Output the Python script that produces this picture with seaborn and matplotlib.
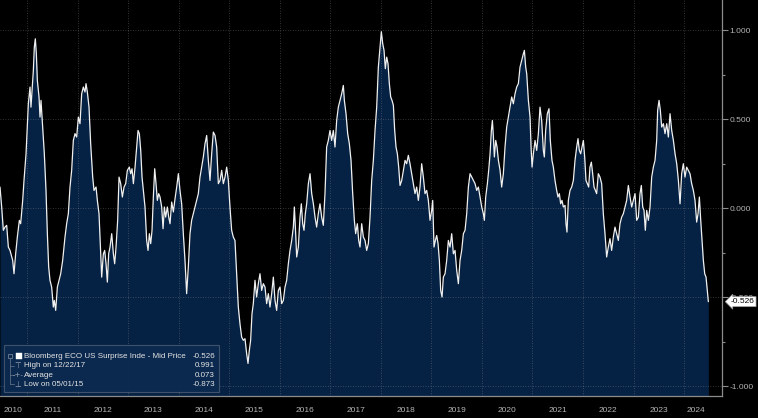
import numpy as np
import pandas as pd
import matplotlib
matplotlib.use("Agg")
import matplotlib.pyplot as plt
import matplotlib.transforms as mtransforms
from matplotlib.patches import Rectangle
import seaborn as sns

# ---------------- data (decimal year, index value) ----------------
t_2010_2013 = [2010.466,2010.499,2010.532,2010.565,2010.598,2010.631,2010.664,2010.717,2010.743,2010.776,2010.809,2010.849,2010.875,2010.915,2010.941,2010.981,2011.027,2011.060,2011.079,2011.106,2011.126,2011.145,2011.165,2011.185,2011.205,2011.238,2011.258,2011.277,2011.310,2011.343,2011.376,2011.403,2011.429,2011.455,2011.488,2011.521,2011.541,2011.568,2011.601,2011.634,2011.667,2011.706,2011.752,2011.785,2011.818,2011.851,2011.884,2011.917,2011.950,2011.983,2012.016,2012.049,2012.082,2012.115,2012.148,2012.168,2012.194,2012.227,2012.260,2012.300,2012.326,2012.366,2012.392,2012.425,2012.458,2012.478,2012.511,2012.537,2012.564,2012.590,2012.616,2012.643,2012.676,2012.709,2012.735,2012.762,2012.794,2012.821,2012.854,2012.887,2012.920,2012.953,2012.986,2013.025,2013.052,2013.078,2013.105,2013.138,2013.170,2013.197,2013.223,2013.250,2013.276,2013.302,2013.335,2013.368,2013.395,2013.421,2013.448,2013.474,2013.500,2013.527,2013.553,2013.579,2013.606,2013.632,2013.665,2013.692,2013.718,2013.744,2013.777,2013.804,2013.830,2013.863,2013.896,2013.929,2013.962,2013.995]
v_2010_2013 = [0.118,0.006,-0.125,-0.107,-0.097,-0.219,-0.238,-0.294,-0.369,-0.257,-0.163,-0.069,-0.088,0.043,0.155,0.305,0.586,0.680,0.567,0.689,0.773,0.904,0.951,0.867,0.717,0.624,0.511,0.605,0.455,0.305,0.099,-0.144,-0.331,-0.406,-0.444,-0.556,-0.519,-0.575,-0.444,-0.406,-0.369,-0.294,-0.163,-0.088,-0.032,0.118,0.212,0.380,0.418,0.399,0.511,0.474,0.642,0.680,0.652,0.699,0.652,0.567,0.361,0.174,0.099,0.118,0.043,-0.032,-0.257,-0.388,-0.257,-0.238,-0.313,-0.416,-0.257,-0.219,-0.144,-0.257,-0.313,-0.219,-0.069,0.174,0.137,0.062,0.118,0.137,0.212,0.230,0.193,0.221,0.137,0.230,0.343,0.436,0.418,0.324,0.174,0.099,0.006,-0.182,-0.238,-0.144,-0.200,-0.125,0.062,0.221,0.137,0.043,0.081,0.062,0.006,-0.116,0.006,-0.051,0.006,-0.051,-0.088,0.034,-0.022,0.052,0.118,0.193]

t_2014_2017 = [2014.027,2014.060,2014.093,2014.126,2014.159,2014.192,2014.225,2014.258,2014.291,2014.324,2014.357,2014.390,2014.423,2014.456,2014.489,2014.522,2014.555,2014.588,2014.621,2014.654,2014.687,2014.720,2014.753,2014.786,2014.819,2014.852,2014.885,2014.918,2014.951,2014.984,2015.016,2015.049,2015.082,2015.115,2015.148,2015.181,2015.214,2015.247,2015.280,2015.313,2015.346,2015.373,2015.399,2015.425,2015.452,2015.478,2015.511,2015.544,2015.577,2015.610,2015.643,2015.676,2015.709,2015.742,2015.775,2015.808,2015.841,2015.874,2015.907,2015.940,2015.973,2016.006,2016.039,2016.072,2016.105,2016.138,2016.171,2016.204,2016.237,2016.270,2016.290,2016.316,2016.336,2016.369,2016.402,2016.428,2016.455,2016.481,2016.507,2016.534,2016.567,2016.600,2016.633,2016.666,2016.699,2016.731,2016.764,2016.797,2016.830,2016.863,2016.896,2016.929,2016.962,2016.995,2017.028,2017.061,2017.094,2017.127,2017.160,2017.193,2017.226,2017.259,2017.279,2017.312,2017.345,2017.378,2017.411,2017.444,2017.477,2017.503,2017.536,2017.563]
v_2014_2017 = [0.099,0.024,-0.144,-0.294,-0.481,-0.331,-0.144,-0.069,-0.032,0.006,0.043,0.081,0.174,0.230,0.287,0.361,0.408,0.268,0.155,0.305,0.427,0.408,0.343,0.137,0.155,0.212,0.137,0.174,0.230,0.155,0.006,-0.125,-0.163,-0.182,-0.369,-0.556,-0.650,-0.725,-0.743,-0.734,-0.818,-0.873,-0.800,-0.743,-0.594,-0.537,-0.406,-0.500,-0.425,-0.369,-0.463,-0.425,-0.444,-0.537,-0.481,-0.556,-0.481,-0.388,-0.519,-0.575,-0.463,-0.444,-0.537,-0.519,-0.444,-0.406,-0.313,-0.238,-0.182,-0.107,0.006,-0.144,-0.275,-0.219,-0.051,0.024,-0.088,-0.125,-0.032,0.024,0.137,0.193,0.081,0.024,-0.051,-0.107,-0.032,0.024,-0.051,-0.097,0.081,0.343,0.380,0.436,0.380,0.436,0.343,0.492,0.567,0.605,0.642,0.689,0.605,0.530,0.418,0.361,0.268,0.081,-0.069,-0.144,-0.088,-0.182]

t_2017_2021 = [2017.589,2017.622,2017.655,2017.688,2017.721,2017.754,2017.787,2017.820,2017.853,2017.886,2017.919,2017.952,2017.985,2018.011,2018.038,2018.064,2018.090,2018.117,2018.143,2018.169,2018.196,2018.222,2018.249,2018.275,2018.301,2018.328,2018.354,2018.381,2018.414,2018.447,2018.480,2018.512,2018.545,2018.578,2018.611,2018.644,2018.677,2018.710,2018.743,2018.776,2018.809,2018.842,2018.875,2018.908,2018.941,2018.974,2019.007,2019.027,2019.053,2019.080,2019.106,2019.133,2019.159,2019.185,2019.212,2019.238,2019.271,2019.304,2019.337,2019.370,2019.403,2019.436,2019.469,2019.502,2019.535,2019.568,2019.601,2019.634,2019.667,2019.700,2019.733,2019.766,2019.799,2019.832,2019.865,2019.898,2019.931,2019.964,2019.997,2020.030,2020.049,2020.076,2020.109,2020.135,2020.162,2020.188,2020.208,2020.228,2020.247,2020.274,2020.300,2020.327,2020.360,2020.392,2020.425,2020.458,2020.491,2020.524,2020.557,2020.590,2020.623,2020.656,2020.689,2020.722,2020.755,2020.788,2020.821,2020.841,2020.867,2020.887,2020.920,2020.953,2020.973,2020.993,2021.019,2021.052,2021.085,2021.118]
v_2017_2021 = [-0.219,-0.088,-0.163,-0.182,-0.238,-0.200,-0.051,0.155,0.268,0.436,0.567,0.792,0.904,0.991,0.923,0.886,0.783,0.848,0.811,0.699,0.624,0.605,0.577,0.436,0.343,0.305,0.230,0.127,0.155,0.212,0.268,0.249,0.296,0.249,0.193,0.137,0.081,0.118,0.043,0.118,0.249,0.174,0.081,0.099,0.043,-0.069,-0.013,0.043,-0.219,-0.182,-0.154,-0.200,-0.294,-0.463,-0.500,-0.388,-0.369,-0.294,-0.182,-0.219,-0.144,-0.257,-0.238,-0.350,-0.425,-0.294,-0.238,-0.144,-0.125,-0.032,0.118,0.193,0.174,0.155,0.137,0.099,0.118,0.062,0.006,-0.032,-0.069,0.062,0.137,0.212,0.305,0.436,0.492,0.399,0.287,0.380,0.343,0.268,0.212,0.118,0.193,0.343,0.455,0.511,0.567,0.624,0.586,0.642,0.680,0.699,0.792,0.830,0.867,0.886,0.792,0.755,0.605,0.511,0.343,0.230,0.305,0.380,0.324,0.418]

t_2021_2024 = [2021.150,2021.183,2021.216,2021.236,2021.262,2021.295,2021.328,2021.354,2021.387,2021.414,2021.447,2021.480,2021.506,2021.533,2021.559,2021.585,2021.612,2021.645,2021.664,2021.684,2021.711,2021.744,2021.777,2021.810,2021.843,2021.876,2021.902,2021.928,2021.955,2021.981,2022.008,2022.034,2022.060,2022.087,2022.113,2022.139,2022.166,2022.192,2022.219,2022.245,2022.271,2022.304,2022.337,2022.370,2022.403,2022.436,2022.469,2022.502,2022.535,2022.568,2022.601,2022.634,2022.667,2022.700,2022.733,2022.766,2022.799,2022.832,2022.865,2022.898,2022.931,2022.964,2022.997,2023.030,2023.063,2023.096,2023.129,2023.155,2023.182,2023.208,2023.234,2023.261,2023.294,2023.327,2023.360,2023.393,2023.426,2023.459,2023.478,2023.505,2023.531,2023.558,2023.591,2023.624,2023.657,2023.690,2023.723,2023.756,2023.789,2023.822,2023.855,2023.888,2023.921,2023.953,2023.986,2024.019,2024.052,2024.085,2024.118,2024.151,2024.184,2024.217,2024.250,2024.277,2024.303,2024.330,2024.356,2024.382,2024.409,2024.435,2024.461,2024.481]
v_2021_2024 = [0.567,0.492,0.324,0.287,0.436,0.530,0.558,0.380,0.268,0.230,0.155,0.099,0.062,0.081,0.024,0.043,0.006,0.015,-0.088,-0.135,0.043,0.099,0.118,0.155,0.268,0.343,0.390,0.324,0.305,0.343,0.380,0.287,0.155,0.137,0.118,0.230,0.258,0.193,0.118,0.099,0.081,0.193,0.174,0.137,-0.032,-0.144,-0.275,-0.219,-0.172,-0.238,-0.163,-0.107,-0.144,-0.182,-0.088,-0.051,-0.032,0.006,0.043,0.127,0.062,0.006,0.043,0.081,-0.069,-0.051,0.081,0.127,0.006,-0.013,-0.125,-0.013,-0.069,0.006,0.174,0.230,0.268,0.380,0.549,0.605,0.549,0.455,0.474,0.418,0.474,0.399,0.530,0.436,0.380,0.305,0.249,0.155,0.024,0.193,0.249,0.174,0.230,0.212,0.193,0.137,0.099,0.043,-0.079,-0.032,0.062,-0.069,-0.182,-0.294,-0.369,-0.388,-0.463,-0.526]

series_name = "Bloomberg ECO US Surprise Inde - Mid Price"
last_value = -0.526
high_label, high_value = "High on 12/22/17", 0.991
avg_label, avg_value = "Average", 0.073
low_label, low_value = "Low on 05/01/15", -0.873
year_labels = list(range(2010, 2025))
y_major = [-1.0, -0.5, 0.0, 0.5, 1.0]
y_minor = [-0.75, -0.25, 0.25, 0.75]

t = t_2010_2013 + t_2014_2017 + t_2017_2021 + t_2021_2024
v = v_2010_2013 + v_2014_2017 + v_2017_2021 + v_2021_2024
df = pd.DataFrame({"t": t, "v": v})

# ---------------- style ----------------
sns.set_style("dark")
plt.rcParams["font.family"] = ["Liberation Sans", "DejaVu Sans"]

BG = "#000000"
FILL = "#052244"
LINE = "#f0f0f0"
AXC = "#8c8c8c"
TXT = "#b4b4b4"

fig = plt.figure(figsize=(7.58, 4.18), dpi=100, facecolor=BG)
ax = fig.add_axes([0.0, 22 / 418, 722 / 758, 396 / 418])
ax.set_facecolor(BG)

YMIN, YMAX = -1.056, 1.169
XMIN, XMAX = 2010.466, 2024.751

ax.fill_between(df["t"], df["v"], YMIN, color=FILL, lw=0, zorder=1)
sns.lineplot(data=df, x="t", y="v", ax=ax, color=LINE, linewidth=0.9,
             estimator=None, sort=False, zorder=3)

ax.set_xlim(XMIN, XMAX)
ax.set_ylim(YMIN, YMAX)
ax.set_xlabel("")
ax.set_ylabel("")

# spines
for s in ["left", "top"]:
    ax.spines[s].set_visible(False)
for s in ["right", "bottom"]:
    ax.spines[s].set_visible(True)
    ax.spines[s].set_color(AXC)
    ax.spines[s].set_linewidth(0.9)

# y axis on the right
ax.yaxis.tick_right()
ax.set_yticks(y_major)
ax.set_yticks(y_minor, minor=True)
ax.set_yticklabels([f"{y:.3f}" for y in y_major])
ax.tick_params(axis="y", which="major", direction="out", length=4, width=0.8,
               color=AXC, labelcolor=TXT, labelsize=6, pad=1.5,
               left=False, right=True)
ax.tick_params(axis="y", which="minor", direction="out", length=2.5, width=0.8,
               color=AXC, left=False, right=True)

# x axis: year boundaries + quarterly minor ticks
year_bounds = [y for y in year_labels[1:]]
ax.set_xticks(year_bounds)
ax.set_xticks([y + q / 4 for y in year_labels for q in (1, 2, 3)
               if XMIN < y + q / 4 < XMAX], minor=True)
ax.tick_params(axis="x", which="major", direction="out", length=5, width=0.8,
               color=AXC, labelbottom=False)
ax.tick_params(axis="x", which="minor", direction="out", length=2, width=0.8,
               color=AXC)

ax.set_axisbelow(False)
ax.grid(True, which="major", axis="both", color="#9a9a9a", alpha=0.45,
        linestyle=(0, (1, 2)), linewidth=0.6, zorder=2)

# year labels centred in each visible year span
t_end = t[-1]
trans_x = mtransforms.blended_transform_factory(ax.transData, ax.transAxes)
for y in year_labels:
    a = max(y, t[0])
    b = min(y + 1, t_end)
    ax.text((a + b) / 2, -0.036, str(y), transform=trans_x, ha="center",
            va="center", fontsize=6, color=TXT, clip_on=False)

# last price tag
trans_y = mtransforms.blended_transform_factory(ax.transAxes, ax.transData)
ax.text(1.012, last_value, f"{last_value:.3f}", transform=trans_y,
        ha="left", va="center", fontsize=6, color="#000000", clip_on=False,
        zorder=10,
        bbox=dict(boxstyle="larrow,pad=0.18", fc="white", ec="#9a9a9a", lw=0.5))

# legend box (Bloomberg style)
bx0, by0, bw, bh = 4 / 722, 4 / 396, 215 / 722, 47 / 396
ax.add_patch(Rectangle((bx0, by0), bw, bh, transform=ax.transAxes,
                       fc="#0c2a4f", ec="#44556e", lw=0.8, alpha=0.95,
                       zorder=8, clip_on=False))
rows = [(series_name, last_value), (high_label, high_value),
        (avg_label, avg_value), (low_label, low_value)]
row_y = [0.101, 0.077, 0.053, 0.030]
tx, vx = 24 / 722, 215 / 722
for (lab, val), ry in zip(rows, row_y):
    ax.text(tx, ry, lab, transform=ax.transAxes, ha="left", va="center",
            fontsize=5.8, color="#e4e4e4", zorder=9)
    ax.text(vx, ry, f"{val:.3f}", transform=ax.transAxes, ha="right",
            va="center", fontsize=5.8, color="#e4e4e4", zorder=9)
# icons
ax.add_patch(Rectangle((15.5 / 722, row_y[0] - 0.0085), 6.5 / 722, 0.017,
                       transform=ax.transAxes, fc="white", ec="white",
                       lw=0.3, zorder=9))
ax.add_patch(Rectangle((8 / 722, row_y[0] - 0.006), 4 / 722, 0.012,
                       transform=ax.transAxes, fc="none", ec="#8a93a3",
                       lw=0.5, zorder=9))
ax.plot([10 / 722, 10 / 722], [row_y[0] - 0.006, row_y[3]],
        transform=ax.transAxes, color="#6f7b8e", lw=0.5, zorder=9)
for ry in row_y[1:]:
    ax.plot([10 / 722, 14 / 722], [ry, ry], transform=ax.transAxes,
            color="#6f7b8e", lw=0.5, zorder=9)
ax.text(18 / 722, row_y[1], "⊤", transform=ax.transAxes, ha="center",
        va="center", fontsize=5.5, color="#9aa3b2", zorder=9,
        family=["DejaVu Sans"])
ax.text(18 / 722, row_y[2], "-+-", transform=ax.transAxes, ha="center",
        va="center", fontsize=5, color="#9aa3b2", zorder=9,
        family=["DejaVu Sans"])
ax.text(18 / 722, row_y[3], "⊥", transform=ax.transAxes, ha="center",
        va="center", fontsize=5.5, color="#9aa3b2", zorder=9,
        family=["DejaVu Sans"])

fig.savefig("out.png", dpi=100, facecolor=BG)
